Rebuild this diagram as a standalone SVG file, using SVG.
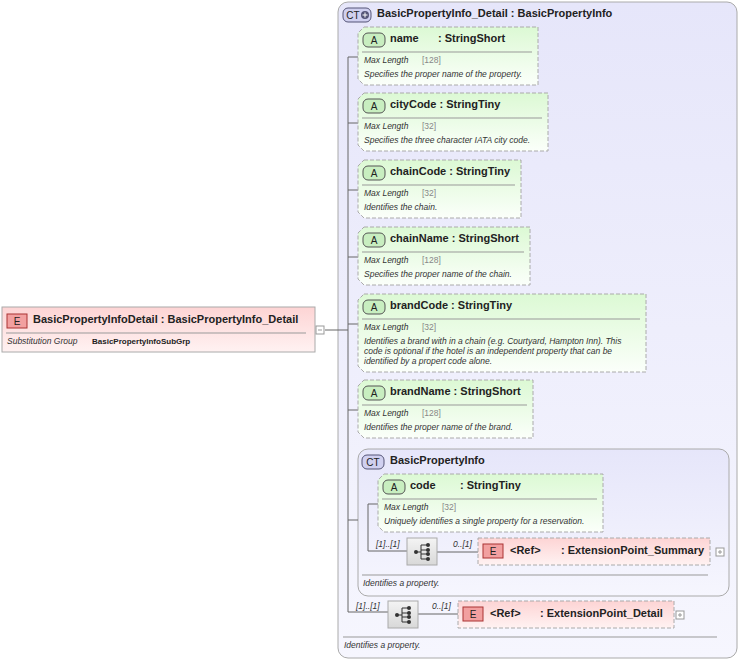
<svg xmlns="http://www.w3.org/2000/svg" width="741" height="661" viewBox="0 0 741 661">
<style>
text{font-family:"Liberation Sans",Arial,sans-serif;fill:#222}
.t{font-size:11px;font-weight:bold}
.i{font-size:8.5px;font-style:italic;fill:#333}
.g{font-size:8.5px;fill:#888}
.attr{fill:url(#ga);stroke:#aaa;stroke-dasharray:4,2}
.el{fill:url(#ge);stroke:#aaa;stroke-dasharray:4,2}
.ct{fill:url(#gc);stroke:#aaa}
.sep{stroke:#999;stroke-width:1}
.c{stroke:#666;fill:none}
.ba{fill:#c8eec0;stroke:#555}
.be{fill:#f2a0a0;stroke:#a33}
.bc{fill:#d0d0f0;stroke:#557}
.bt{font-size:10px;text-anchor:middle}
</style>
<defs>
<linearGradient id="ga" x1="0" y1="0" x2="0" y2="1"><stop offset="0" stop-color="#dcf9d4"/><stop offset="1" stop-color="#fbfffa"/></linearGradient>
<linearGradient id="ge" x1="0" y1="0" x2="0" y2="1"><stop offset="0" stop-color="#fdd4d4"/><stop offset="1" stop-color="#fff2f2"/></linearGradient>
<linearGradient id="gc" x1="0" y1="0" x2="0" y2="1"><stop offset="0" stop-color="#e6e6fa"/><stop offset="1" stop-color="#f6f6fe"/></linearGradient>
<linearGradient id="gs" x1="0" y1="0" x2="0" y2="1"><stop offset="0" stop-color="#f4f4f4"/><stop offset="1" stop-color="#d8d8d8"/></linearGradient>
<g id="seqicon"><rect width="30" height="27" fill="url(#gs)" stroke="#aaa"/><circle cx="9" cy="14" r="2" fill="#333"/><path d="M9 14H14M14 7V21M14 7H20M14 12H20M14 16H20M14 21H20" stroke="#333" fill="none"/><circle cx="21" cy="7" r="2" fill="#333"/><circle cx="21" cy="12" r="2" fill="#333"/><circle cx="21" cy="16" r="2" fill="#333"/><circle cx="21" cy="21" r="2" fill="#333"/></g>
</defs>

<g id="ct-detail">
<rect x="338" y="2" width="399" height="656" rx="10" class="ct"/>
<rect x="343" y="8" width="28" height="14" rx="5" class="bc"/><text x="353" y="19" class="bt">CT</text><circle cx="365" cy="15" r="4" fill="#557"/><path d="M362.5 15H367.5M365 12.5V17.5" stroke="#fff"/>
<text x="377" y="17" class="t">BasicPropertyInfo_Detail : BasicPropertyInfo</text>
<line x1="343" y1="637" x2="717" y2="637" class="sep"/>
<text x="344" y="648" class="i">Identifies a property.</text>
</g>
<g id="ct-basic">
<rect x="358" y="449" width="371" height="147" rx="10" class="ct"/>
<rect x="362" y="455" width="22" height="14" rx="5" class="bc"/><text x="373" y="466" class="bt">CT</text>
<text x="390" y="464" class="t">BasicPropertyInfo</text>
<line x1="362" y1="575" x2="708" y2="575" class="sep"/>
<text x="363" y="586" class="i">Identifies a property.</text>
</g>

<g id="connectors">
<path class="c" d="M325 330H348M348 57V612M348 57H358M348 123H358M348 190H358M348 257H358M348 324H358M348 410H358M348 520H358M348 612H388M418 614H458"/>
<path class="c" d="M368 504V551M368 504H378M368 551H407M437 552H478"/>
</g>

<g id="root">
<rect x="2" y="307" width="313" height="45" fill="url(#ge)" stroke="#aaa"/>
<rect x="7" y="314" width="20" height="14" class="be"/><text x="17" y="325" class="bt">E</text>
<text x="33" y="323" class="t">BasicPropertyInfoDetail : BasicPropertyInfo_Detail</text>
<line x1="6" y1="333" x2="306" y2="333" class="sep"/>
<text x="7" y="344" class="i">Substitution Group</text>
<text x="92" y="344" style="font-size:8px;font-weight:bold">BasicPropertyInfoSubGrp</text>
<rect x="316" y="326" width="8" height="8" fill="#fff" stroke="#999"/><path d="M318 330H322" stroke="#999"/>
</g>

<g id="a-name">
<path class="attr" d="M364 27H538V85H364L358 79V33Z"/>
<rect x="363" y="33" width="22" height="14" rx="5" class="ba"/><text x="374" y="44" class="bt">A</text>
<text x="390" y="42" class="t">name</text><text x="438" y="42" class="t">: StringShort</text>
<line x1="362" y1="52" x2="532" y2="52" class="sep"/>
<text x="364" y="63" class="i">Max Length</text><text x="422" y="63" class="g">[128]</text>
<text x="364" y="77" class="i">Specifies the proper name of the property.</text>
</g>
<g id="a-cityCode">
<path class="attr" d="M364 93H548V151H364L358 145V99Z"/>
<rect x="363" y="99" width="22" height="14" rx="5" class="ba"/><text x="374" y="110" class="bt">A</text>
<text x="390" y="108" class="t">cityCode : StringTiny</text>
<line x1="362" y1="118" x2="542" y2="118" class="sep"/>
<text x="364" y="129" class="i">Max Length</text><text x="422" y="129" class="g">[32]</text>
<text x="364" y="143" class="i">Specifies the three character IATA city code.</text>
</g>
<g id="a-chainCode">
<path class="attr" d="M364 160H521V218H364L358 212V166Z"/>
<rect x="363" y="166" width="22" height="14" rx="5" class="ba"/><text x="374" y="177" class="bt">A</text>
<text x="390" y="175" class="t">chainCode : StringTiny</text>
<line x1="362" y1="185" x2="515" y2="185" class="sep"/>
<text x="364" y="196" class="i">Max Length</text><text x="422" y="196" class="g">[32]</text>
<text x="364" y="210" class="i">Identifies the chain.</text>
</g>
<g id="a-chainName">
<path class="attr" d="M364 227H530V285H364L358 279V233Z"/>
<rect x="363" y="233" width="22" height="14" rx="5" class="ba"/><text x="374" y="244" class="bt">A</text>
<text x="390" y="242" class="t">chainName : StringShort</text>
<line x1="362" y1="252" x2="524" y2="252" class="sep"/>
<text x="364" y="263" class="i">Max Length</text><text x="422" y="263" class="g">[128]</text>
<text x="364" y="277" class="i">Specifies the proper name of the chain.</text>
</g>
<g id="a-brandCode">
<path class="attr" d="M364 294H646V372H364L358 366V300Z"/>
<rect x="363" y="300" width="22" height="14" rx="5" class="ba"/><text x="374" y="311" class="bt">A</text>
<text x="390" y="309" class="t">brandCode : StringTiny</text>
<line x1="362" y1="319" x2="640" y2="319" class="sep"/>
<text x="364" y="330" class="i">Max Length</text><text x="422" y="330" class="g">[32]</text>
<text x="364" y="344" class="i">Identifies a brand with in a chain (e.g. Courtyard, Hampton Inn).  This</text>
<text x="364" y="354" class="i">code is optional if the hotel is an independent property that can be</text>
<text x="364" y="364" class="i">identified by a propert code alone.</text>
</g>
<g id="a-brandName">
<path class="attr" d="M364 380H533V438H364L358 432V386Z"/>
<rect x="363" y="386" width="22" height="14" rx="5" class="ba"/><text x="374" y="397" class="bt">A</text>
<text x="390" y="395" class="t">brandName : StringShort</text>
<line x1="362" y1="405" x2="527" y2="405" class="sep"/>
<text x="364" y="416" class="i">Max Length</text><text x="422" y="416" class="g">[128]</text>
<text x="364" y="430" class="i">Identifies the proper name of the brand.</text>
</g>

<g id="a-code">
<path class="attr" d="M384 474H603V532H384L378 526V480Z"/>
<rect x="383" y="480" width="22" height="14" rx="5" class="ba"/><text x="394" y="491" class="bt">A</text>
<text x="410" y="489" class="t">code</text><text x="460" y="489" class="t">: StringTiny</text>
<line x1="382" y1="499" x2="597" y2="499" class="sep"/>
<text x="384" y="510" class="i">Max Length</text><text x="442" y="510" class="g">[32]</text>
<text x="384" y="524" class="i">Uniquely identifies a single property for a reservation.</text>
</g>

<g id="seq1">
<use href="#seqicon" x="407" y="538"/>
<text x="376" y="547" class="i">[1]..[1]</text>
<text x="453" y="547" class="i">0..[1]</text>
</g>
<g id="ref-summary">
<rect x="478" y="538" width="232" height="27" class="el"/>
<rect x="483" y="544" width="20" height="14" class="be"/><text x="493" y="555" class="bt">E</text>
<text x="510" y="554" class="t">&lt;Ref&gt;</text><text x="561" y="554" class="t">: ExtensionPoint_Summary</text>
<rect x="716" y="548" width="8" height="8" fill="#fff" stroke="#999"/><path d="M718 552H722M720 550V554" stroke="#999"/>
</g>
<g id="seq2">
<use href="#seqicon" x="388" y="601"/>
<text x="356" y="609" class="i">[1]..[1]</text>
<text x="432" y="609" class="i">0..[1]</text>
</g>
<g id="ref-detail">
<rect x="458" y="601" width="216" height="27" class="el"/>
<rect x="463" y="607" width="20" height="14" class="be"/><text x="473" y="618" class="bt">E</text>
<text x="490" y="617" class="t">&lt;Ref&gt;</text><text x="540" y="617" class="t">: ExtensionPoint_Detail</text>
<rect x="676" y="611" width="8" height="8" fill="#fff" stroke="#999"/><path d="M678 615H682M680 613V617" stroke="#999"/>
</g>
</svg>
